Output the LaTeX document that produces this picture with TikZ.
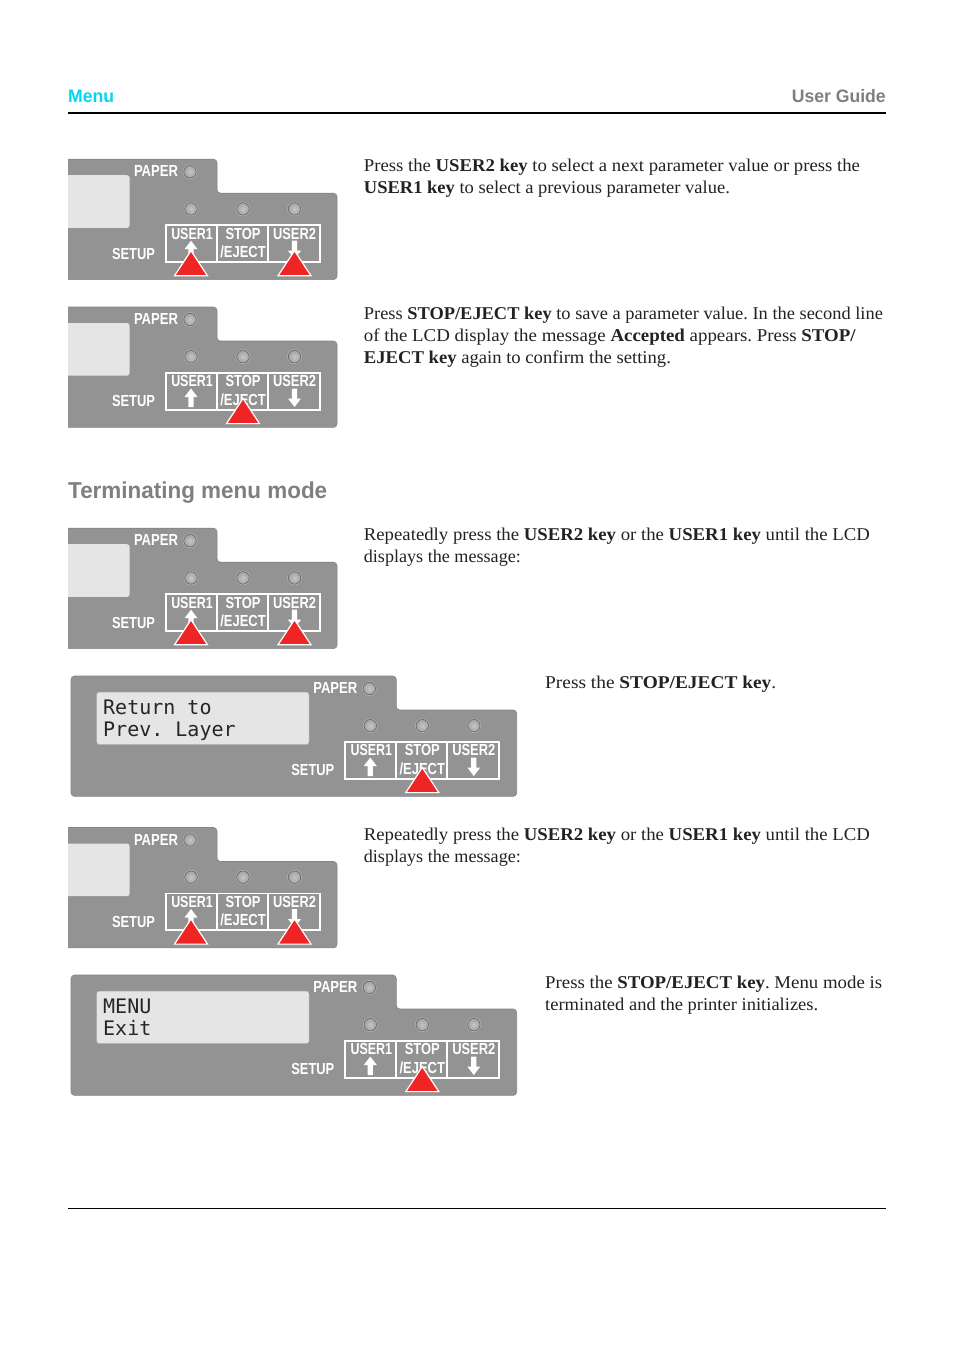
\documentclass[tikz,border=0pt]{standalone}
\usepackage{fontspec}
\usepackage{graphicx}
\setmainfont{Liberation Serif}
\setsansfont{Liberation Sans}
\newfontfamily\lcdfont{DejaVu Sans Mono}
\definecolor{panelgray}{HTML}{939393}
\definecolor{paneledge}{HTML}{858585}
\definecolor{lcdgray}{HTML}{E5E5E5}
\definecolor{markred}{HTML}{EE2524}
\definecolor{headcyan}{HTML}{00D8F0}
\definecolor{headgray}{HTML}{7F7F7F}
\definecolor{bodyink}{HTML}{222222}
\definecolor{ledin}{HTML}{C6C6C6}
\definecolor{ledout}{HTML}{A2A2A2}
\definecolor{ledrim}{HTML}{666666}
\definecolor{ledring}{HTML}{B4B4B4}
\newcommand\fitw[2]{\resizebox{#1pt}{\height}{#2}}
\tikzset{
  panelbody/.style={fill=panelgray,draw=paneledge,line width=.6pt},
  lcdbox/.style={fill=lcdgray,draw=paneledge!70,line width=.5pt},
  keybox/.style={draw=white,line width=1.8pt},
  panellabel/.style={text=white,font=\sffamily\fontsize{16}{16}\selectfont\bfseries,inner sep=0,anchor=base},
  lcdtext/.style={text=black!85,font=\lcdfont\fontsize{20}{20}\selectfont\frenchspacing,inner sep=0,anchor=base west},
  bodyline/.style={text=bodyink,font=\fontsize{18}{18}\selectfont\frenchspacing,inner sep=0,anchor=base west},
  marker/.style={fill=markred,draw=white,line width=1.2pt,line join=miter},
  headtext/.style={font=\sffamily\bfseries\fontsize{18}{18}\selectfont,inner sep=0,anchor=base}
}
\newcommand\led[2]{\draw[ledring,line width=.6pt] (#1,#2) circle (7);\shade[inner color=ledin,outer color=ledout,draw=ledrim,line width=.6pt] (#1,#2) circle (6.2);}
% common part of a panel: id, x shift, top, list of marker x positions
\newcommand\panelcommon[4]{%
  \begin{scope}[shift={(#2,#3)}]
    \node[panellabel] (#1paper) at (156,17.6) {\fitw{44}{PAPER}};
    \node[panellabel] (#1setup) at (133.5,99.8) {\fitw{43}{SETUP}};
    \led{190}{12.5}\led{191}{49.7}\led{243}{49.7}\led{294.5}{49.7}
    \draw[keybox] (166,66) rectangle (320,102.7);
    \draw[keybox] (216.7,66) -- (216.7,102.7) (267.7,66) -- (267.7,102.7);
    \node[panellabel] (#1userone) at (192,79.8) {\fitw{41.5}{USER1}};
    \node[panellabel] (#1stop) at (243,79.8) {\fitw{35}{STOP}};
    \node[panellabel] (#1eject) at (243,98.3) {\fitw{45.5}{/EJECT}};
    \node[panellabel] (#1usertwo) at (294.5,79.8) {\fitw{43}{USER2}};
    \fill[white] (191,81.5) -- (197.5,90) -- (193.6,90) -- (193.6,100) -- (188.4,100) -- (188.4,90) -- (184.5,90) -- cycle;
    \fill[white] (294.5,100) -- (288,91.5) -- (291.9,91.5) -- (291.9,81.5) -- (297.1,81.5) -- (297.1,91.5) -- (301,91.5) -- cycle;
    \foreach \mx in {#4} {
      \draw[marker] (\mx,91.5) -- (\mx+16.5,116.6) -- (\mx-16.5,116.6) -- cycle;
    }
  \end{scope}}
\newcommand\smallpanel[3]{%
  \begin{scope}[shift={(0,#2)}]
    \path[panelbody,rounded corners=3.5] (60,0) -- (217,0) -- (217,34) -- (337,34) -- (337,120.4) -- (60,120.4) -- cycle;
    \path[lcdbox,draw=none,rounded corners=2.5] (60,16) -- (129.5,16) -- (129.5,68.7) -- (60,68.7) -- cycle;
    \fill[white] (50,-2) rectangle (68,123);
  \end{scope}
  \panelcommon{#1}{0}{#2}{#3}}
\newcommand\bigpanel[5]{%
  \begin{scope}[shift={(179.3,#2)}]
    \path[panelbody,rounded corners=3.5] (-108.3,0) -- (217,0) -- (217,34) -- (337.4,34) -- (337.4,120.4) -- (-108.3,120.4) -- cycle;
    \path[lcdbox,rounded corners=2.5] (-82.6,16) rectangle (129.7,68.6);
    \node[lcdtext] (#1lineone) at (-76.3,38.2) {#3};
    \node[lcdtext] (#1linetwo) at (-76.3,60) {#4};
  \end{scope}
  \panelcommon{#1}{179.3}{#2}{#5}}
\newcommand\bodyl[5]{\node[bodyline] (#1) at (#3,#4) {\fitw{#2}{#5}};}
\begin{document}
\begin{tikzpicture}[x=1pt,y=-1pt]
\useasboundingbox (0,0) rectangle (954,1350);
\fill[white] (0,0) rectangle (954,1350);
% header
\node[headtext,anchor=base west,text=headcyan] (hmenu) at (68,102) {\fitw{46}{Menu}};
\node[headtext,anchor=base east,text=headgray] (hguide) at (886,102) {\fitw{94}{User Guide}};
\draw[black,line width=1.5pt] (68,113) -- (886,113);
\draw[black,line width=.8pt] (68,1208.5) -- (886,1208.5);
\node[headtext,anchor=base west,text=headgray] (hterm) at (68,498) {\fontsize{23}{23}\selectfont\fitw{259}{Terminating menu mode}};
% panels
\smallpanel{pa}{159.2}{191,294.5}
\smallpanel{pb}{307}{243}
\smallpanel{pc}{528.2}{191,294.5}
\bigpanel{pd}{676}{Return to}{Prev. Layer}{243}
\smallpanel{pe}{827.5}{191,294.5}
\bigpanel{pf}{975}{MENU}{Exit}{243}
% text
\bodyl{ta}{496}{363.7}{171}{Press the \textbf{USER2 key} to select a next parameter value or press the}
\bodyl{tb}{366}{363.7}{193.5}{\textbf{USER1 key} to select a previous parameter value.}
\bodyl{tc}{519}{363.7}{319}{Press \textbf{STOP/EJECT key} to save a parameter value. In the second line}
\bodyl{td}{492}{363.7}{341}{of the LCD display the message \textbf{Accepted} appears. Press \textbf{STOP/}}
\bodyl{te}{307}{363.7}{363.5}{\textbf{EJECT key} again to confirm the setting.}
\bodyl{tf}{506}{363.7}{540}{Repeatedly press the \textbf{USER2 key} or the \textbf{USER1 key} until the LCD}
\bodyl{tg}{157}{363.7}{562.5}{displays the message:}
\bodyl{th}{231}{545}{688}{Press the \textbf{STOP/EJECT key}.}
\bodyl{ti}{506}{363.7}{840}{Repeatedly press the \textbf{USER2 key} or the \textbf{USER1 key} until the LCD}
\bodyl{tj}{157}{363.7}{862.5}{displays the message:}
\bodyl{tk}{337}{545}{988}{Press the \textbf{STOP/EJECT key}. Menu mode is}
\bodyl{tl}{273}{545}{1010.5}{terminated and the printer initializes.}
\end{tikzpicture}
\end{document}
